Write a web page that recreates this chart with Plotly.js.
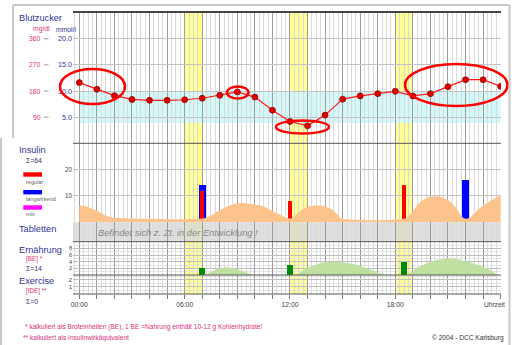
<!DOCTYPE html>
<html>
<head>
<meta charset="utf-8">
<script src="https://cdn.plot.ly/plotly-3.0.1.min.js"></script>
<style>html,body{margin:0;padding:0;background:#fff;}#chart{width:512px;height:345px;}</style>
</head>
<body>
<div id="chart"></div>
<script>
// ---------- data ----------
const glucoseHours = [0,1,2,3,4,5,6,7,8,9,10,11,12,13,14,15,16,17,18,19,20,21,22,23,24];
const glucoseValues = [209,186,164,151,148,148,150,155,165,177,159,114,75,60,97,152,163,171,179,163,171,195,219,219,196];

const mgTicks = [90, 180, 270, 360];
const mgLabels = ['90', '180', '270', '360'];
const mmolLabels = ['5.0', '10.0', '15.0', '20.0'];
const targetRange = [70, 180];

const insulinCurveHours = [0,0.4,1.0,1.5,2.0,2.5,7.1,7.6,8.0,8.5,9.1,9.7,10.5,11.2,11.6,11.9,12.1,12.4,12.7,13.1,13.5,13.9,14.4,14.7,14.9,18.6,18.9,19.4,19.8,20.2,20.6,21.1,21.4,21.7,21.9,22.2,22.6,23.0,23.5,24.0];
const insulinCurveValues = [6.4,6.0,4.4,2.6,1.7,1.5,1.5,3.0,4.6,6.2,7.3,7.1,6.0,3.6,2.3,1.5,1.5,3.2,5.0,6.0,6.4,6.2,4.9,3.0,1.5,1.5,3.5,7.6,9.3,9.9,9.6,8.0,6.0,3.0,1.5,1.5,4.2,6.3,8.5,10.3];

const regularHours = [7, 12, 18.5];
const regularUnits = [12, 8, 14];
const longHours = [7, 22];
const longUnits = [14, 16];

const foodCurveHours = [0,7.1,7.6,8.0,8.4,8.9,9.4,10.0,12.35,12.9,13.5,14.0,14.4,14.9,15.4,16.0,16.6,17.5,18.7,19.2,19.7,20.3,21.1,21.7,22.3,23.0,23.5,23.85,24];
const foodCurveValues = [0,0,1.2,2.0,2.3,1.9,1.0,0,0,1.8,3.2,3.8,4.0,3.8,3.5,2.7,1.6,0,0,2.0,3.3,4.4,5.0,4.6,3.7,2.5,1.2,0,0];
const mealHours = [7, 12, 15, 18.5];
const mealBE = [2, 3, 2, 4];

const injectionWindows = [[6, 7], [12, 13], [18, 19]];

const xLabelHours = [0, 6, 12, 18];
const xLabelText = ['00:00', '06:00', '12:00', '18:00'];
const insulinTicks = [10, 20];
const beTicks = [2, 4, 6, 8];
const exTicks = [1, 2];

// ---------- layout helpers ----------
const L = 73, T = 12, W = 428, H = 282;
const PX = x => (x - L) / W;
const PY = y => (T + H - y) / H;
const FONT = "'Liberation Sans', Arial, sans-serif";
const PINK = '#e0307a', NAVY = '#333399';

const hourTicks = [], hourText = [];
for (let h = 0; h <= 24; h++) {
  hourTicks.push(h);
  const i = xLabelHours.indexOf(h);
  hourText.push(i >= 0 ? xLabelText[i] : '');
}

const insulinSum = regularUnits.concat(longUnits).reduce((a, b) => a + b, 0);

// ---------- traces ----------
const traces = [
  {x: [], y: [], yaxis: 'y3', type: 'scatter', mode: 'markers'},
  {x: [], y: [], yaxis: 'y5', type: 'scatter', mode: 'markers'},
  {x: insulinCurveHours, y: insulinCurveValues, yaxis: 'y2', type: 'scatter', mode: 'lines',
   line: {width: 0, shape: 'spline', smoothing: 0.7}, fill: 'tozeroy', fillcolor: '#fcc48c'},
  {x: longHours, y: longUnits, yaxis: 'y2', type: 'bar', width: 0.4, marker: {color: '#0000ff'}},
  {x: regularHours, y: regularUnits, yaxis: 'y2', type: 'bar', width: 0.24, marker: {color: '#ff0000'}},
  {x: foodCurveHours, y: foodCurveValues, yaxis: 'y4', type: 'scatter', mode: 'lines',
   line: {width: 0, shape: 'spline', smoothing: 0.7}, fill: 'tozeroy', fillcolor: '#c0e0a2'},
  {x: mealHours, y: mealBE, yaxis: 'y4', type: 'bar', width: 0.33, marker: {color: '#008a00'}},
  {x: glucoseHours, y: glucoseValues, yaxis: 'y', type: 'scatter', mode: 'lines+markers',
   line: {color: '#ff1a1a', width: 1.2},
   marker: {size: 6, color: '#e00000', line: {color: '#800000', width: 0.7}}}
];

// ---------- shapes ----------
const shapes = [];
shapes.push({type: 'rect', xref: 'x', yref: 'y', x0: 0, x1: 24, y0: targetRange[0], y1: targetRange[1],
  fillcolor: '#d2f8f8', line: {width: 0}, layer: 'below'});
injectionWindows.forEach(w => shapes.push({type: 'rect', xref: 'x', yref: 'paper', x0: w[0], x1: w[1], y0: 0, y1: 1,
  fillcolor: '#ffff66', opacity: 0.7, line: {width: 0}, layer: 'below'}));
shapes.push({type: 'rect', xref: 'paper', yref: 'y3 domain', x0: 0, x1: 1, y0: 0, y1: 1,
  fillcolor: '#d6d6d6', opacity: 0.78, line: {width: 0}, layer: 'between'});
// panel borders
shapes.push({type: 'line', xref: 'paper', yref: 'paper', x0: 0, x1: 1, y0: 1, y1: 1, line: {color: '#444', width: 2}});
[143.3, 241.7, 275, 294].forEach(y => shapes.push({type: 'line', xref: 'paper', yref: 'paper', x0: 0, x1: 1,
  y0: PY(y), y1: PY(y), line: {color: '#555', width: 1}}));
// mg/dl tick dashes
mgTicks.forEach(v => shapes.push({type: 'line', xref: 'paper', yref: 'y', x0: PX(44), x1: PX(48.5), y0: v, y1: v,
  line: {color: '#999', width: 1}}));
// legend swatches
[['#ff0000', 172.3], ['#0000ff', 190], ['#ff00ff', 205.3]].forEach(s => shapes.push({type: 'rect', xref: 'paper', yref: 'paper',
  x0: PX(23.3), x1: PX(42), y0: PY(s[1] + 4.4), y1: PY(s[1]), fillcolor: s[0], line: {width: 0}}));
// red highlight ellipses
[[60, 125, 69, 104], [227, 248.5, 86.5, 98.5], [276, 329, 120.5, 133.5], [405, 507.5, 64, 106]].forEach(e =>
  shapes.push({type: 'circle', xref: 'paper', yref: 'paper', x0: PX(e[0]), x1: PX(e[1]), y0: PY(e[3]), y1: PY(e[2]),
    line: {color: '#ff0000', width: 2.5}}));
// outer frame
shapes.push({type: 'line', xref: 'paper', yref: 'paper', x0: PX(13), x1: PX(509.5), y0: PY(5), y1: PY(5), line: {color: '#c8c8c8', width: 2}});
shapes.push({type: 'line', xref: 'paper', yref: 'paper', x0: PX(13), x1: PX(13), y0: PY(5), y1: PY(138), line: {color: '#c8c8c8', width: 2}});
shapes.push({type: 'line', xref: 'paper', yref: 'paper', x0: PX(1), x1: PX(1), y0: PY(138), y1: PY(345), line: {color: '#c8c8c8', width: 2}});
shapes.push({type: 'line', xref: 'paper', yref: 'paper', x0: PX(509.5), x1: PX(509.5), y0: PY(5), y1: PY(345), line: {color: '#c8c8c8', width: 2}});

// ---------- annotations ----------
const ann = [];
function txt(t, x, y, size, color, anchor) {
  ann.push({text: t, xref: 'paper', yref: 'paper', x: PX(x), y: PY(y), xanchor: anchor || 'left',
    yanchor: 'middle', showarrow: false, font: {family: FONT, size: size, color: color}});
}
txt('Blutzucker', 16.5, 18.3, 9.2, NAVY);
txt('mg/dl', 30.5, 29, 6.8, PINK);
txt('mmol/l', 54, 29, 6.8, NAVY);
mgTicks.forEach((v, i) => ann.push({text: mgLabels[i], xref: 'paper', yref: 'y', x: PX(42.5), y: v, xanchor: 'right',
  yanchor: 'middle', showarrow: false, font: {family: FONT, size: 6.8, color: PINK}}));
txt('Insulin', 16.5, 150, 9.2, NAVY);
txt('Σ=' + insulinSum, 23.5, 160.7, 6.8, '#333366');
txt('regular', 23.5, 182.3, 5.6, '#666');
txt('langwirkend', 23.5, 199, 5.6, '#666');
txt('mix', 23.5, 214.3, 5.6, '#666');
txt('Tabletten', 16.5, 228.7, 9.2, NAVY);
txt('Ernährung', 16.5, 250, 9.2, NAVY);
txt('[BE] *', 23.5, 259.3, 6.3, PINK);
txt('Σ=14', 23.5, 268.3, 6.8, '#333366');
txt('Exercise', 16.5, 281, 9.2, NAVY);
txt('[IDE] **', 23.5, 291, 6.3, PINK);
txt('Σ=0', 23.5, 301.7, 6.8, '#333366');
txt('* kalkuliert als Broteinheiten (BE), 1 BE =Nahrung enthält 10-12 g Kohlenhydrate!', 22.5, 327, 6.6, PINK);
txt('** kalkuliert als Insulinwirkäquivalent', 21, 337.5, 6.6, PINK);
txt('© 2004 - DCC Karlsburg', 505.5, 338.3, 6.6, '#333', 'right');
txt('Uhrzeit', 494, 304.3, 6.6, '#444', 'center');
txt('<i>Befindet sich z. Zt. in der Entwicklung !</i>', 96, 233, 9.3, '#888');

// ---------- layout ----------
const tickFont = s => ({family: FONT, size: s, color: '#444'});
const layout = {
  width: 512, height: 345,
  margin: {l: L, r: 512 - L - W, t: T, b: 345 - T - H, pad: 0},
  paper_bgcolor: '#ffffff', plot_bgcolor: 'rgba(0,0,0,0)',
  showlegend: false, barmode: 'overlay', bargap: 0,
  font: {family: FONT},
  xaxis: {range: [-0.36, 24.02], anchor: 'y5', side: 'bottom', tickmode: 'array', tickvals: hourTicks, ticktext: hourText,
    ticks: 'outside', ticklen: 4, tickcolor: '#777', tickfont: tickFont(6.8),
    showgrid: true, gridcolor: '#9c9c9c', gridwidth: 1, zeroline: false, showline: false,
    minor: {tick0: 0, dtick: 0.25, showgrid: true, gridcolor: '#dadada', ticks: ''}},
  yaxis: {domain: [PY(143.3), 1], range: [0, 452], anchor: 'x', tickmode: 'array', tickvals: mgTicks, ticktext: mmolLabels,
    ticks: '', tickfont: {family: FONT, size: 7.2, color: NAVY}, showgrid: true, gridcolor: '#c4c4c4', zeroline: false},
  yaxis2: {domain: [PY(222.3), PY(143.3)], range: [0, 30], anchor: 'x', tickmode: 'array', tickvals: insulinTicks,
    ticks: '', tickfont: tickFont(6.3), showgrid: true, gridcolor: '#c4c4c4', zeroline: false},
  yaxis3: {domain: [PY(241.7), PY(222.3)], range: [0, 1], anchor: 'x', showticklabels: false, ticks: '',
    showgrid: false, zeroline: false},
  yaxis4: {domain: [PY(275), PY(241.7)], range: [0, 10], anchor: 'x', tickmode: 'array', tickvals: beTicks,
    ticks: '', tickfont: tickFont(5.6), showgrid: true, gridcolor: '#bdbdbd', zeroline: false,
    minor: {dtick: 1, showgrid: true, gridcolor: '#e2e2e2'}},
  yaxis5: {domain: [0, PY(275)], range: [0, 2.71], anchor: 'x', tickmode: 'array', tickvals: exTicks,
    ticks: '', tickfont: tickFont(6), showgrid: true, gridcolor: '#bdbdbd', zeroline: false,
    minor: {dtick: 0.5, showgrid: true, gridcolor: '#e2e2e2'}},
  shapes: shapes,
  annotations: ann
};

Plotly.newPlot('chart', traces, layout, {staticPlot: true, displayModeBar: false});
</script>
</body>
</html>
